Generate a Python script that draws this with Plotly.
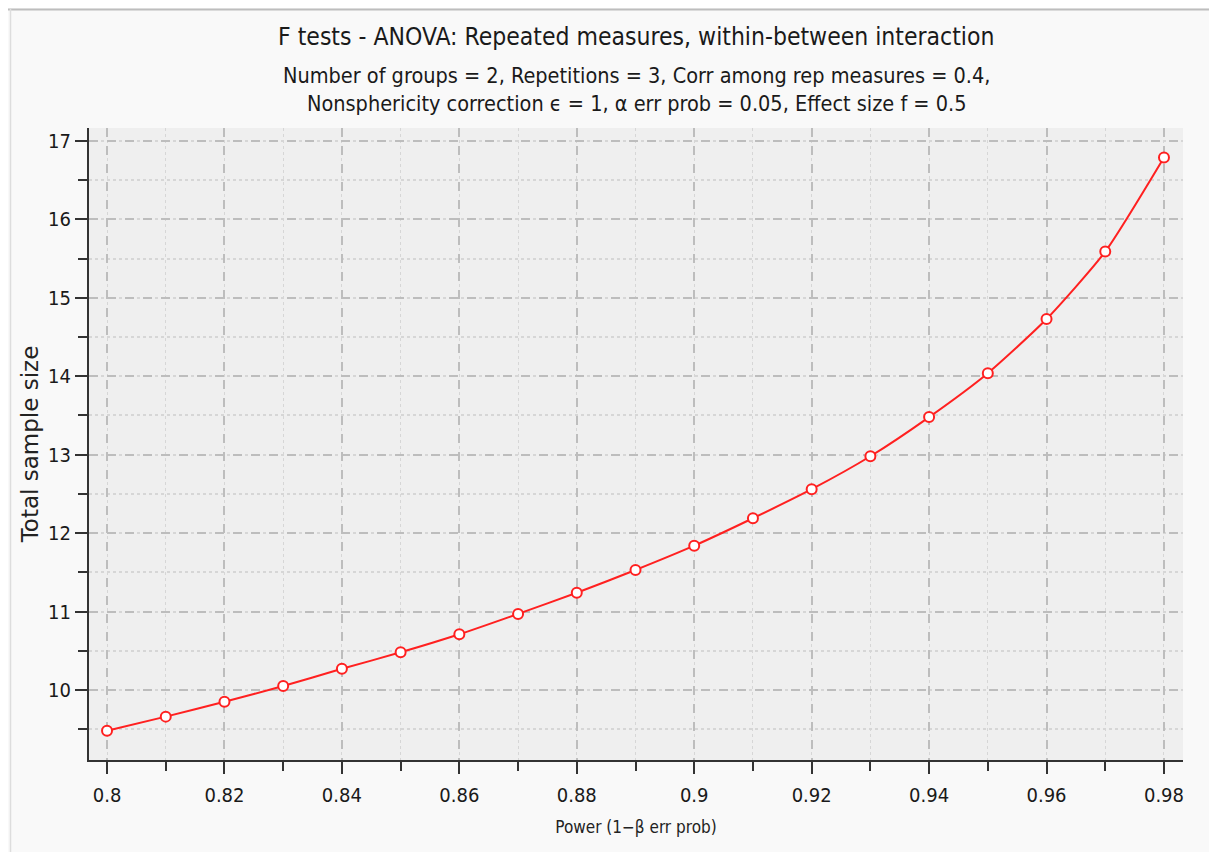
import plotly.graph_objects as go

# Data
power = [0.80, 0.81, 0.82, 0.83, 0.84, 0.85, 0.86, 0.87, 0.88, 0.89,
         0.90, 0.91, 0.92, 0.93, 0.94, 0.95, 0.96, 0.97, 0.98]
total_sample_size = [9.48, 9.66, 9.85, 10.05, 10.27, 10.48, 10.71, 10.97, 11.24, 11.53,
                     11.84, 12.19, 12.56, 12.98, 13.48, 14.04, 14.73, 15.59, 16.79]

x_ticks = [0.80, 0.82, 0.84, 0.86, 0.88, 0.90, 0.92, 0.94, 0.96, 0.98]
x_tick_labels = ["0.8", "0.82", "0.84", "0.86", "0.88", "0.9", "0.92", "0.94", "0.96", "0.98"]
y_ticks = [10, 11, 12, 13, 14, 15, 16, 17]

title_text = "F tests - ANOVA: Repeated measures, within-between interaction"
subtitle_text = ("Number of groups = 2, Repetitions = 3, Corr among rep measures = 0.4,<br>"
                 "Nonsphericity correction ϵ = 1, α err prob = 0.05, Effect size f = 0.5")
x_title = "Power (1−β err prob)"
y_title = "Total sample size"

# figure placed at (8, 8) by the page's body margin
W, H = 1201, 844
L, R, T, B = 81, 26, 120, 92
pw, ph = W - L - R, H - T - B

def px_x(p):
    return (p - L) / pw

def px_y(p):
    return (H - B - p) / ph

cond = "DejaVu Sans Condensed"
tickfont = dict(family=cond, size=20, color="#1a1a1a")

fig = go.Figure()
fig.add_trace(go.Scatter(
    x=power, y=total_sample_size,
    mode="lines+markers",
    line=dict(color="#ff2020", width=2, shape="spline", smoothing=0.6),
    marker=dict(symbol="circle", size=10, color="white",
                line=dict(color="#ff2020", width=2)),
    showlegend=False,
))

fig.update_xaxes(
    range=[0.79693, 0.98324],
    tickmode="array", tickvals=x_ticks, ticktext=x_tick_labels,
    ticks="outside", ticklen=12, tickwidth=2, tickcolor="#333333",
    ticklabelstandoff=4,
    showline=True, linecolor="#333333", linewidth=2,
    showgrid=True, gridcolor="#bdbdbd", gridwidth=1.5, griddash="dash",
    minor=dict(dtick=0.01, tick0=0.8, ticks="outside", ticklen=9, tickwidth=2,
               tickcolor="#333333", showgrid=True, gridcolor="#d6d6d6",
               gridwidth=1, griddash="dot"),
    zeroline=False, tickfont=tickfont,
    title=dict(text=x_title, font=dict(family=cond, size=17, color="#222222"),
               standoff=15),
)
fig.update_yaxes(
    range=[9.107, 17.166],
    tickmode="array", tickvals=y_ticks,
    ticks="outside", ticklen=12, tickwidth=2, tickcolor="#333333",
    showline=True, linecolor="#333333", linewidth=2,
    showgrid=True, gridcolor="#bdbdbd", gridwidth=2, griddash="dash",
    minor=dict(dtick=0.5, tick0=9.5, ticks="outside", ticklen=9, tickwidth=2,
               tickcolor="#333333", showgrid=True, gridcolor="#d6d6d6",
               gridwidth=1.5, griddash="dot"),
    zeroline=False, tickfont=tickfont,
    title=dict(text=y_title, font=dict(family="DejaVu Sans", size=23, color="#222222"),
               standoff=3),
)

shapes = [
    dict(type="line", xref="paper", yref="paper", x0=px_x(0), x1=px_x(W), y0=px_y(1.5), y1=px_y(1.5),
         line=dict(color="#bdbdbd", width=2)),
    dict(type="line", xref="paper", yref="paper", x0=px_x(2.5), x1=px_x(2.5), y0=px_y(1), y1=px_y(H),
         line=dict(color="#dddddd", width=1.5)),
]

annotations = [
    dict(text=title_text, xref="paper", yref="paper", x=0.5, y=px_y(29),
         xanchor="center", yanchor="middle", showarrow=False,
         font=dict(family=cond, size=24.5, color="#1a1a1a")),
    dict(text=subtitle_text, xref="paper", yref="paper", x=0.5, y=px_y(82),
         xanchor="center", yanchor="middle", showarrow=False,
         font=dict(family=cond, size=21.5, color="#1a1a1a")),
]

fig.update_layout(
    width=W, height=H,
    margin=dict(l=L, r=R, t=T, b=B),
    paper_bgcolor="#f9f9f9",
    plot_bgcolor="#efefef",
    shapes=shapes,
    annotations=annotations,
)

fig.write_html("out.html")
